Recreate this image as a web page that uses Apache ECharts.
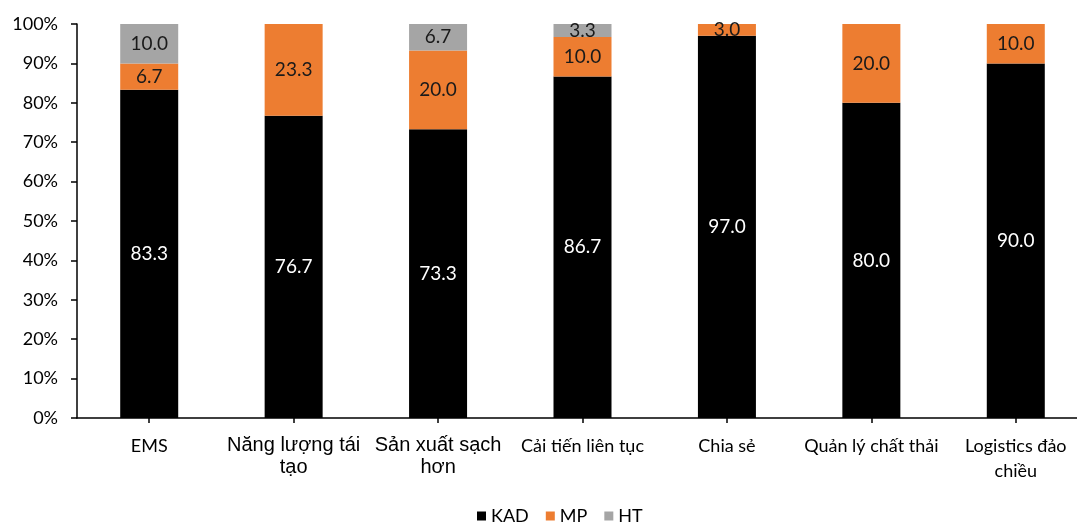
<!DOCTYPE html>
<html>
<head>
<meta charset="utf-8">
<script src="https://cdn.jsdelivr.net/npm/echarts@6/dist/echarts.min.js"></script>
<style>
  html, body { margin: 0; padding: 0; background: #fff; }
  #chart { width: 1077px; height: 525px; }
</style>
</head>
<body>
<div id="chart"></div>
<script>
// Categories (practice groups) and the share of each response per group, in %
const categories = ['EMS', 'Năng lượng tái\ntạo', 'Sản xuất sạch\nhơn', 'Cải tiến liên tục', 'Chia sẻ', 'Quản lý chất thải', 'Logistics đảo\nchiều'];
const kad = [83.3, 76.7, 73.3, 86.7, 97.0, 80.0, 90.0];
const mp  = [6.7, 23.3, 20.0, 10.0, 3.0, 20.0, 10.0];
const ht  = [10.0, null, 6.7, 3.3, null, null, null];
const yTicks = [0, 10, 20, 30, 40, 50, 60, 70, 80, 90, 100];

// Two labels are set in a different face
const arialLabels = new Set([categories[1], categories[2]]);

const baseFont = 'Lato, "Open Sans", sans-serif';

function labelStyle(color) {
  return {
    show: true,
    position: 'inside',
    color: color,
    fontFamily: baseFont,
    fontSize: 19,
    formatter: p => (p.value == null ? '' : p.value.toFixed(1))
  };
}

const chart = echarts.init(document.getElementById('chart'));
chart.setOption({
  animation: false,
  grid: { left: 77, top: 24, width: 1011, height: 394, containLabel: false, outerBoundsMode: 'none' },
  legend: {
    top: 507,
    left: 477,
    padding: 0,
    itemWidth: 9,
    itemHeight: 9,
    itemGap: 17,
    icon: 'rect',
    textStyle: { fontFamily: baseFont, fontSize: 18, color: '#000' },
    data: ['KAD', 'MP', 'HT']
  },
  xAxis: {
    type: 'category',
    data: categories,
    axisLine: { show: true, lineStyle: { color: '#000', width: 1.5 } },
    axisTick: { show: true, alignWithLabel: true, length: 5, lineStyle: { color: '#000', width: 1.5 } },
    axisLabel: {
      interval: 0,
      margin: 16,
      lineHeight: 25,
      color: '#000',
      fontFamily: baseFont,
      fontSize: 18,
      formatter: v => arialLabels.has(v) ? '{a|' + v.split('\n').join('}\n{a|') + '}' : v,
      rich: { a: { fontFamily: '"Liberation Sans", Arial, sans-serif', fontSize: 20, color: '#000', lineHeight: 22 } }
    }
  },
  yAxis: {
    type: 'value',
    min: 0,
    max: 100,
    interval: 10,
    splitLine: { show: false },
    axisLine: { show: true, lineStyle: { color: '#000', width: 1.5 } },
    axisTick: { show: true, length: 6, lineStyle: { color: '#000', width: 1.5 } },
    axisLabel: {
      margin: 19,
      color: '#000',
      fontFamily: baseFont,
      fontSize: 18,
      customValues: yTicks,
      formatter: v => v + '%'
    }
  },
  series: [
    { name: 'KAD', type: 'bar', stack: 'total', barWidth: 58, data: kad,
      itemStyle: { color: '#000000' }, label: labelStyle('#ffffff') },
    { name: 'MP', type: 'bar', stack: 'total', barWidth: 58, data: mp,
      itemStyle: { color: '#ed7d31' }, label: labelStyle('#1a1a1a') },
    { name: 'HT', type: 'bar', stack: 'total', barWidth: 58, data: ht,
      itemStyle: { color: '#a5a5a5' }, label: labelStyle('#1a1a1a') }
  ]
});
</script>
</body>
</html>
